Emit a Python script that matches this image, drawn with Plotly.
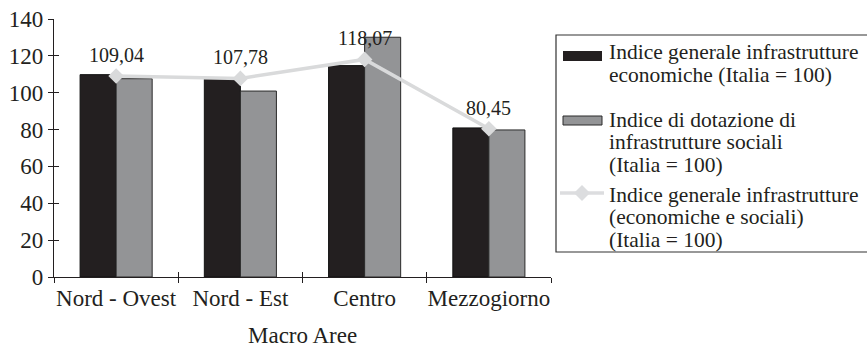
import plotly.graph_objects as go

# Macro-area infrastructure indices (Italia = 100)
areas = ["Nord - Ovest", "Nord - Est", "Centro", "Mezzogiorno"]
econ_index = [109.8, 107.8, 114.7, 80.9]
social_index = [107.6, 100.9, 130.1, 79.8]
overall_index = [109.04, 107.78, 118.07, 80.45]

x_title = "Macro Aree"
legend_lines = [
    ["Indice generale infrastrutture", "economiche (Italia = 100)"],
    ["Indice di dotazione di", "infrastrutture sociali", "(Italia = 100)"],
    ["Indice generale infrastrutture", "(economiche e sociali)", "(Italia = 100)"],
]

FONT = "Liberation Serif, Times New Roman, serif"
INK = "#231f20"
W, H = 867, 349
L, R, T, B = 54, 551, 19, 277


def px(x):
    return (x - L) / (R - L)


def py(y):
    return (B - y) / (B - T)


fig = go.Figure()
fig.add_trace(go.Bar(
    x=areas, y=econ_index, marker=dict(color=INK, line=dict(color="#111", width=1)),
    showlegend=False,
))
fig.add_trace(go.Bar(
    x=areas, y=social_index, marker=dict(color="#939496", line=dict(color="#2a2a2a", width=1)),
    showlegend=False,
))
fig.add_trace(go.Scatter(
    x=areas, y=overall_index, mode="lines+markers",
    line=dict(color="#d9dadb", width=3.5),
    marker=dict(symbol="diamond", size=12, color="#d9dadb"),
    showlegend=False,
))

# value labels over the overall index
for a, v in zip(areas, overall_index):
    fig.add_annotation(x=a, y=v, text=f"{v:.2f}".replace(".", ","), showarrow=False,
                       yshift=21, font=dict(family=FONT, size=20, color=INK))

# category axis title, set low under the tick labels
fig.add_annotation(xref="paper", yref="paper", x=0.5, y=py(335), xanchor="center",
                   yanchor="middle", text=x_title, showarrow=False, borderpad=0,
                   font=dict(family=FONT, size=23, color=INK))

# hand-built legend
fig.add_shape(type="rect", xref="paper", yref="paper", x0=px(556), x1=px(880),
              y0=py(252), y1=py(35), line=dict(color="#333", width=1.2), fillcolor="rgba(0,0,0,0)")
fig.add_shape(type="rect", xref="paper", yref="paper", x0=px(563), x1=px(602),
              y0=py(61), y1=py(51), line=dict(color=INK, width=0), fillcolor=INK)
fig.add_shape(type="rect", xref="paper", yref="paper", x0=px(563), x1=px(602),
              y0=py(125), y1=py(116), line=dict(color="#2a2a2a", width=1), fillcolor="#939496")
fig.add_shape(type="line", xref="paper", yref="paper", x0=px(560), x1=px(604),
              y0=py(193), y1=py(193), line=dict(color="#dcdddf", width=3.5))
fig.add_shape(type="path", xref="paper", yref="paper",
              path=f"M {px(574)} {py(193)} L {px(582)} {py(185)} L {px(590)} {py(193)} L {px(582)} {py(201)} Z",
              line=dict(color="#dcdddf", width=0), fillcolor="#dcdddf")

baselines = [[59.5, 82], [127, 149.5, 172], [202, 224.5, 247]]
for lines, bls in zip(legend_lines, baselines):
    for txt, bl in zip(lines, bls):
        fig.add_annotation(xref="paper", yref="paper", x=px(608), y=py(bl - 7.1),
                           xanchor="left", yanchor="middle", text=txt, showarrow=False,
                           borderpad=0, font=dict(family=FONT, size=21.5, color=INK))

axis_common = dict(showgrid=False, zeroline=False, linecolor=INK, linewidth=1.3,
                   tickcolor=INK, tickwidth=1.3, ticklen=5, automargin=False)
tick_font = dict(family=FONT, size=23, color=INK)

fig.update_layout(
    width=W, height=H,
    margin=dict(l=L, r=W - R, t=T, b=H - B),
    paper_bgcolor="white", plot_bgcolor="white",
    barmode="group", bargap=0.42, bargroupgap=0,
    font=dict(family=FONT, size=23, color=INK),
    xaxis=dict(**axis_common, showline=True, ticks="outside", tickson="boundaries",
               range=[-0.5, 3.5], tickfont=tick_font, tickangle=0),
    yaxis=dict(**axis_common, showline=True, ticks="outside", range=[0, 140], dtick=20,
               tickfont=tick_font),
    xaxis2=dict(**axis_common, overlaying="x", matches="x", type="category",
                categoryarray=areas, ticks="inside", tickson="boundaries",
                showticklabels=False, showline=False, side="bottom", anchor="y"),
    yaxis2=dict(**axis_common, overlaying="y", range=[0, 140], dtick=20,
                ticks="inside", showticklabels=False, showline=False, anchor="x"),
)
# invisible helper trace so the overlay axes render their inside ticks
fig.add_trace(go.Scatter(x=areas, y=[None] * len(areas), xaxis="x2", yaxis="y2",
                         showlegend=False, hoverinfo="skip"))

fig.write_html("out.html")
